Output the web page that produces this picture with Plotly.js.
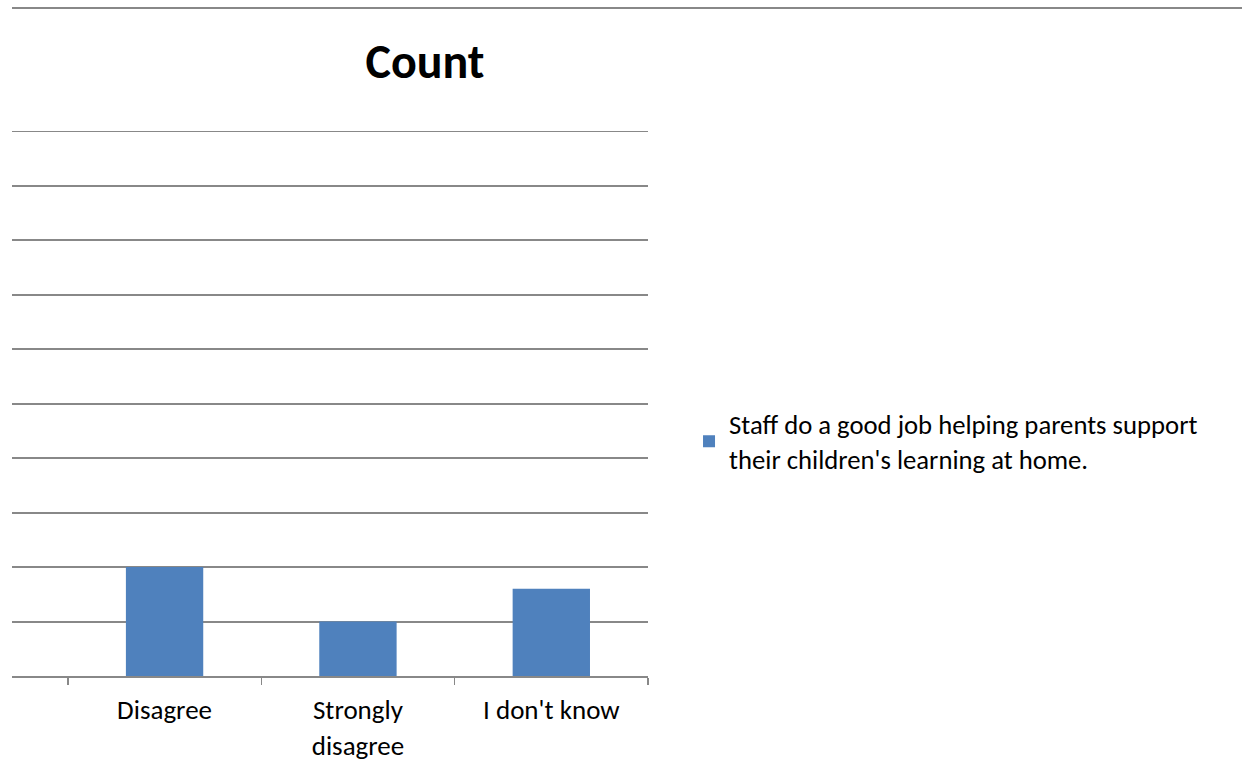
<!DOCTYPE html>
<html>
<head>
<meta charset="utf-8">
<script src="https://cdn.plot.ly/plotly-3.0.1.min.js"></script>
<style>html,body{margin:0;padding:0;background:#fff;}#chart{width:1242px;height:779px;}</style>
</head>
<body>
<div id="chart"></div>
<script>
const categories = ["Disagree", "Strongly<br>disagree", "I don't know"];
const counts = [10, 5, 8];
const seriesName = "Staff do a good job helping parents support<br>their children's learning at home.";
const chartTitle = "Count";
const yMax = 50;

const FONT = "Carlito, Calibri, 'Open Sans', 'Noto Sans', sans-serif";

const data = [{
  type: "bar",
  x: categories,
  y: counts,
  name: seriesName,
  width: 0.4,
  marker: {color: "#4f81bd"},
  showlegend: true
}];

const layout = {
  width: 1242, height: 779,
  margin: {l: 12, r: 594, t: 131, b: 103},
  paper_bgcolor: "#ffffff",
  plot_bgcolor: "#ffffff",
  font: {family: FONT, size: 27, color: "#000000"},
  title: {text: "<b>" + chartTitle + "</b>", font: {family: FONT, size: 48, color: "#000"},
          x: 425/1242, xref: "container", xanchor: "center", y: 1 - 61/779, yref: "container", yanchor: "middle"},
  showlegend: true,
  legend: {x: 1.0645, xanchor: "left", y: 0.43, yanchor: "middle", font: {family: FONT, size: 26.7, color: "#000"},
           itemwidth: 30, bgcolor: "rgba(0,0,0,0)", tracegroupgap: 0},
  xaxis: {type: "category", range: [-0.789, 2.5], tickson: "boundaries", ticks: "outside", ticklen: 7,
          tickcolor: "#888888", tickwidth: 1.5, showline: true, linecolor: "#888888", linewidth: 2,
          ticklabelstandoff: 9,
          showgrid: false, zeroline: false, tickfont: {family: FONT, size: 27, color: "#000"}, fixedrange: true},
  yaxis: {range: [0, yMax], dtick: 5, showticklabels: false, ticks: "", showgrid: true,
          gridcolor: "#888888", gridwidth: 2, zeroline: false, showline: false, fixedrange: true},
  shapes: [
    {type: "line", xref: "paper", yref: "paper", x0: 0, x1: 1230/636, y0: 1 + 123/545, y1: 1 + 123/545,
     line: {color: "#888888", width: 2}},
    {type: "line", xref: "paper", yref: "y", x0: 0, x1: 1, y0: yMax, y1: yMax,
     line: {color: "#888888", width: 2}, layer: "below"}
  ]
};

Plotly.newPlot("chart", data, layout, {displayModeBar: false, staticPlot: true});
</script>
</body>
</html>
